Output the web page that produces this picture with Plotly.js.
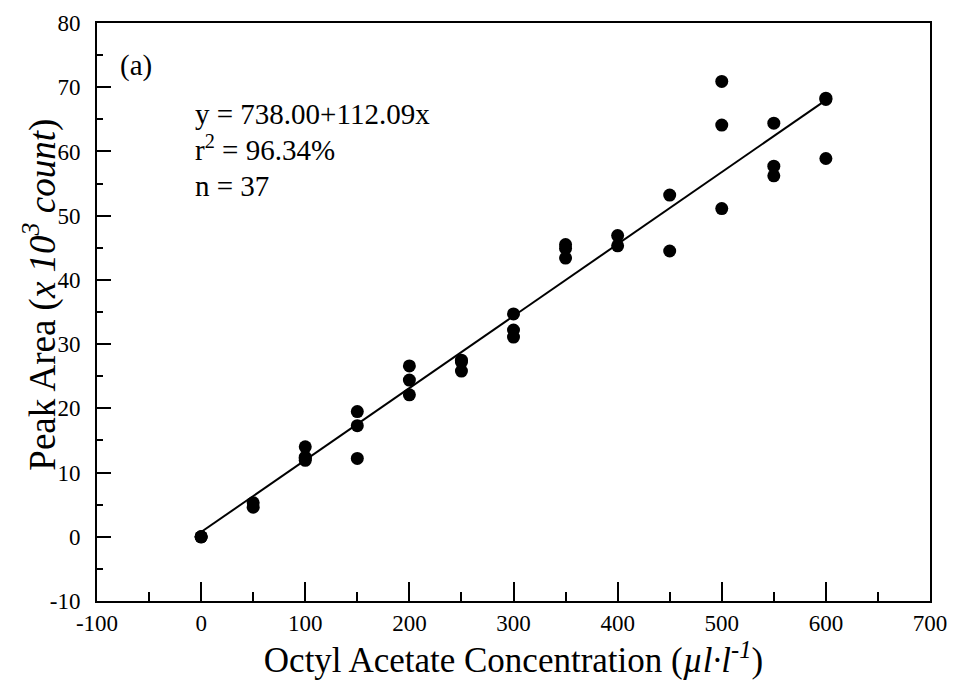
<!DOCTYPE html>
<html>
<head>
<meta charset="utf-8">
<script src="https://cdn.plot.ly/plotly-3.0.1.min.js"></script>
<style>html,body{margin:0;padding:0;background:#fff;}#chart{width:954px;height:681px;}</style>
</head>
<body>
<div id="chart"></div>
<script>
// Measured data: concentration (µl/l) and peak area (x10^3 count)
const concentration = [0,0,0, 50,50, 100,100,100, 150,150,150, 200,200,200, 250,250,250, 300,300,300, 350,350,350, 400,400, 450,450, 500,500,500, 550,550,550, 600,600,600, 100];
const peakArea      = [0,0,0, 5.3,4.6, 14.0,12.4,11.9, 19.5,17.3,12.2, 26.6,24.4,22.1, 27.5,25.8,27.2, 34.7,32.2,31.1, 45.5,44.9,43.4, 46.9,45.3, 53.2,44.5, 70.9,64.1,51.1, 64.4,57.7,56.2, 68.1,68.3,58.9, 12.2];
// Regression: y = 738.00 + 112.09x (counts) -> in x10^3 count
const fitIntercept = 0.738;
const fitSlope = 0.11209;
const fitX = [0, 600];
const fitY = fitX.map(x => fitIntercept + fitSlope * x);

const xTickVals = [-100,0,100,200,300,400,500,600,700];
const xTickText = ["-100","0","100","200","300","400","500","600","700"];
const yTickVals = [-10,0,10,20,30,40,50,60,70,80];
const yTickText = ["-10","0","10","20","30","40","50","60","70","80"];

const font = "Liberation Serif, Times New Roman, serif";

const traces = [
  {x: fitX, y: fitY, mode: 'lines', line: {color: '#000', width: 2}, hoverinfo: 'skip', showlegend: false},
  {x: concentration, y: peakArea, mode: 'markers', marker: {color: '#000', size: 13, line: {width: 0}}, showlegend: false}
];

const layout = {
  width: 954, height: 681,
  margin: {l: 97, r: 24, t: 23, b: 80},
  paper_bgcolor: '#fff', plot_bgcolor: '#fff',
  font: {family: font, color: '#000', size: 23},
  xaxis: {
    range: [-100, 700], tickvals: xTickVals, ticktext: xTickText,
    ticks: 'inside', ticklen: 19, tickwidth: 2, tickcolor: '#000',
    minor: {dtick: 50, ticks: 'inside', ticklen: 9, tickwidth: 2, tickcolor: '#000'},
    showline: true, linewidth: 2, linecolor: '#000', mirror: true,
    showgrid: false, zeroline: false,
    tickfont: {size: 23, family: font},
    title: {text: 'Octyl Acetate Concentration (<i>µl·l<sup>-1</sup></i>)', font: {size: 35, family: font}, standoff: 4}
  },
  yaxis: {
    range: [-10, 80], tickvals: yTickVals, ticktext: yTickText,
    ticks: 'inside', ticklen: 14, tickwidth: 2, tickcolor: '#000',
    minor: {dtick: 5, ticks: 'inside', ticklen: 6, tickwidth: 2, tickcolor: '#000'},
    showline: true, linewidth: 2, linecolor: '#000', mirror: true,
    showgrid: false, zeroline: false,
    tickfont: {size: 23, family: font},
    ticklabelstandoff: 10
  },
  annotations: [
    {xref: 'paper', yref: 'paper', x: -0.0684, y: 0.53, xanchor: 'center', yanchor: 'middle', textangle: -90, text: 'Peak Area (<i>x 10<sup>3</sup> count</i>)', showarrow: false, font: {size: 37, family: font}},
    {xref: 'paper', yref: 'paper', x: 0.025, y: 0.927, xanchor: 'left', yanchor: 'middle', text: '(a)', showarrow: false, font: {size: 29, family: font}},
    {xref: 'paper', yref: 'paper', x: 0.115, y: 0.843, xanchor: 'left', yanchor: 'middle', text: 'y = 738.00+112.09x', showarrow: false, font: {size: 29, family: font}},
    {xref: 'paper', yref: 'paper', x: 0.115, y: 0.784, xanchor: 'left', yanchor: 'middle', text: 'r<sup>2</sup> = 96.34%', showarrow: false, font: {size: 29, family: font}},
    {xref: 'paper', yref: 'paper', x: 0.115, y: 0.718, xanchor: 'left', yanchor: 'middle', text: 'n = 37', showarrow: false, font: {size: 29, family: font}}
  ]
};

Plotly.newPlot('chart', traces, layout, {displayModeBar: false, staticPlot: true});
</script>
</body>
</html>
